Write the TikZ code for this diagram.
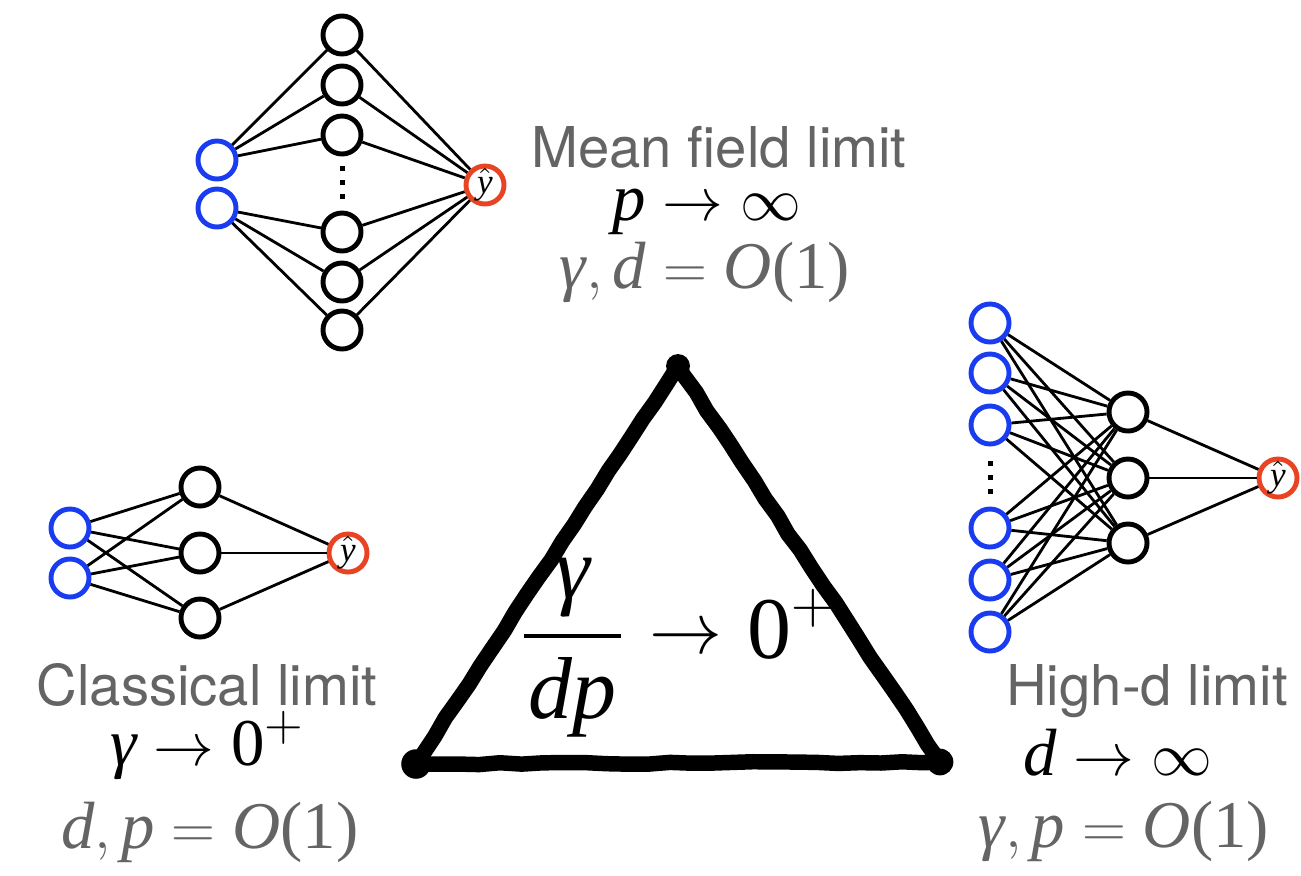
\documentclass[tikz,border=0pt]{standalone}
\usepackage{amsmath}
\usepackage{fontspec}
\setsansfont{TeX Gyre Heros}
\newfontfamily\timesfont{Liberation Serif}
\usetikzlibrary{positioning}
\usetikzlibrary{decorations.pathmorphing}
\definecolor{blue}{RGB}{25,60,240}
\definecolor{red}{RGB}{232,68,36}
\definecolor{gray}{RGB}{100,100,100}

\begin{document}
\begin{tikzpicture}[x=0.01cm, y=-0.01cm,
    unit/.style={circle, draw, line width=1.4pt, minimum size=0.38cm, inner sep=0pt},
    inunit/.style={unit, draw=blue},
    hidunit/.style={unit, draw=black},
    outunit/.style={unit, draw=red, font=\timesfont\fontsize{10}{10}\selectfont},
    wire/.style={line width=0.8pt},
    labeltext/.style={anchor=base, inner sep=0pt, text=gray, font=\sffamily\fontsize{16}{18}\selectfont},
    mathtext/.style={anchor=base, inner sep=0pt, font=\timesfont\fontsize{19}{20}\selectfont}]
    \useasboundingbox (0,0) rectangle (1301,875);

    % mean field network (top)
    \node[inunit] (m-in1) at (217,160) {};
    \node[inunit] (m-in2) at (217,208) {};
    \foreach \n/\y in {1/35, 2/85, 3/135, 4/232, 5/282, 6/330}
        \node[hidunit] (m-h\n) at (342,\y) {};
    \node[outunit] (m-out) at (485,185) {$\hat{\textit{y}}$};
    \foreach \n in {1,2,3} \draw[wire] (m-in1) -- (m-h\n);
    \foreach \n in {4,5,6} \draw[wire] (m-in2) -- (m-h\n);
    \foreach \n in {1,...,6} \draw[wire] (m-h\n) -- (m-out);
    \foreach \y in {166,180,194} \fill (339.5,\y) rectangle ++(5,5);

    % classical network (left)
    \node[inunit] (c-in1) at (70,528) {};
    \node[inunit] (c-in2) at (70,578) {};
    \foreach \n/\y in {1/487, 2/553, 3/618}
        \node[hidunit] (c-h\n) at (200,\y) {};
    \node[outunit] (c-out) at (348,553) {$\hat{\textit{y}}$};
    \foreach \i in {1,2}
        \foreach \n in {1,2,3} \draw[wire] (c-in\i) -- (c-h\n);
    \foreach \n in {1,2,3} \draw[wire] (c-h\n) -- (c-out);

    % high-d network (right)
    \foreach \i/\y in {1/323, 2/373, 3/425, 4/528, 5/580, 6/632}
        \node[inunit] (h-in\i) at (990,\y) {};
    \foreach \n/\y in {1/412, 2/478, 3/543}
        \node[hidunit] (h-h\n) at (1128,\y) {};
    \node[outunit] (h-out) at (1278,478) {$\hat{\textit{y}}$};
    \foreach \i in {1,...,6}
        \foreach \n in {1,2,3} \draw[wire] (h-in\i) -- (h-h\n);
    \foreach \n in {1,2,3} \draw[wire] (h-h\n) -- (h-out);
    \foreach \y in {461,475,489} \fill (987.5,\y) rectangle ++(5,5);

    % triangle
    \coordinate (tri-a) at (678,366);
    \coordinate (tri-b) at (416,764);
    \coordinate (tri-c) at (940,762);
    \draw[line width=4.4pt, line join=round, line cap=round,
        decorate, decoration={random steps, segment length=6pt, amplitude=0.3pt}]
        (tri-a) -- (tri-b) -- (tri-c) -- cycle;
    \fill (tri-a) circle (3.4pt);
    \fill (tri-b) circle (4.2pt);
    \fill (tri-c) circle (3.8pt);
    \node[anchor=base, inner sep=0pt, font=\timesfont\fontsize{25}{30}\selectfont] (ratio) at (678,658)
        {$\dfrac{\textit{γ}}{\mkern1mu\textit{dp}\mkern1mu}
          \mathrel{\raisebox{1.25pt}{\fontsize{20}{22}\selectfont$\to$}} \text{0}^{+}$};

    % limit labels
    \node[labeltext] (mf-title) at (719,167) {Mean field limit};
    \node[mathtext] (mf-rate) at (707,220) {$\textit{p} \to \infty$};
    \node[mathtext, text=gray] (mf-fixed) at (705,288) {$\textit{γ}, \textit{d} = \textit{O}\text{(1)}$};

    \node[labeltext] (cl-title) at (207,705) {Classical limit};
    \node[mathtext] (cl-rate) at (208,765) {$\textit{γ} \to \text{0}^{+}$};
    \node[mathtext, text=gray] (cl-fixed) at (210,848) {$\textit{d}, \textit{p} = \textit{O}\text{(1)}$};

    \node[labeltext] (hd-title) at (1147,705) {High-d limit};
    \node[mathtext] (hd-rate) at (1118,775) {$\textit{d} \to \infty$};
    \node[mathtext, text=gray] (hd-fixed) at (1124,847) {$\textit{γ}, \textit{p} = \textit{O}\text{(1)}$};
\end{tikzpicture}
\end{document}
